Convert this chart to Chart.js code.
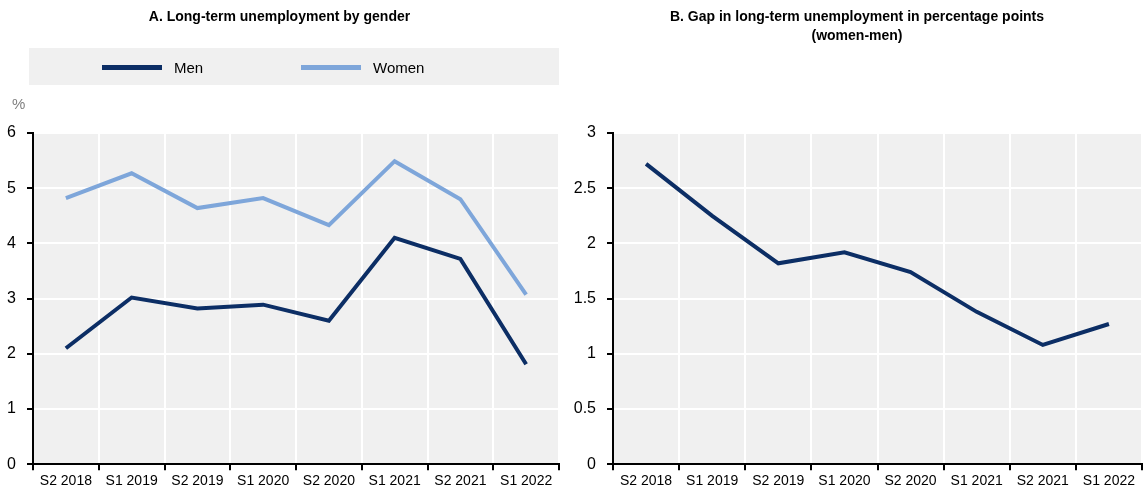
<!DOCTYPE html>
<html>
<head>
<meta charset="utf-8">
<script src="https://cdn.jsdelivr.net/npm/chart.js@4.4.1/dist/chart.umd.min.js"></script>
<style>
  html, body { margin: 0; padding: 0; background: #fff; }
  body { width: 1144px; height: 494px; position: relative; overflow: hidden;
         font-family: 'Liberation Sans Narrow', 'Arial Narrow', 'Liberation Sans', sans-serif; }
  .panel { position: absolute; top: 0; height: 494px; }
  #panelA { left: 0; width: 572px; }
  #panelB { left: 572px; width: 572px; }
  .legend { position: absolute; left: 29px; top: 48px; width: 530px; height: 37px;
            background: #f0f0f0; font-size: 15px; color: #000; }
  .legend .item { position: absolute; top: 0; height: 37px; line-height: 37px; }
  .legend .swatch { position: absolute; top: 17px; width: 60px; height: 5px; }
  .legend .label { position: absolute; white-space: nowrap; top: 1px; }
  .unit { position: absolute; left: 12px; top: 95px; font-size: 15px; color: #808080; }
</style>
</head>
<body>
<div class="panel" id="panelA">
  <canvas id="chartA" width="572" height="494"></canvas>
  <div class="legend" id="legendA"></div>
  <div class="unit">%</div>
</div>
<div class="panel" id="panelB">
  <canvas id="chartB" width="572" height="494"></canvas>
</div>
<script>
const periods = ["S2 2018", "S1 2019", "S2 2019", "S1 2020", "S2 2020", "S1 2021", "S2 2021", "S1 2022"];
const menValues = [2.10, 3.02, 2.82, 2.89, 2.60, 4.10, 3.72, 1.81];
const womenValues = [4.82, 5.27, 4.64, 4.82, 4.33, 5.49, 4.80, 3.07];
const gapValues = [2.72, 2.25, 1.82, 1.92, 1.74, 1.38, 1.08, 1.27];

const titleA = "A. Long-term unemployment by gender";
const titleB = ["B. Gap in long-term unemployment in percentage points", "(women-men)"];

const navy = '#0c2e65';
const lightBlue = '#7ea6da';
const fontFamily = "'Liberation Sans Narrow', 'Arial Narrow', 'Liberation Sans', sans-serif";

// grey plot background
const plotBackground = {
  id: 'plotBackground',
  beforeDraw(chart) {
    const a = chart.chartArea;
    const ctx = chart.ctx;
    ctx.save();
    ctx.fillStyle = '#f0f0f0';
    ctx.fillRect(a.left, a.top, a.right - a.left, a.bottom - a.top);
    ctx.restore();
  }
};

function makeOptions(titleText, titleBottom, yMax, yStep, axisWidth, rightPad) {
  return {
    responsive: false,
    animation: false,
    layout: { padding: { left: 0, right: rightPad, top: 0, bottom: 1 } },
    plugins: {
      legend: { display: false },
      tooltip: { enabled: false },
      title: {
        display: true,
        text: titleText,
        color: '#000',
        font: { family: fontFamily, size: 14, weight: 'bold', lineHeight: 1.35 },
        padding: { top: 8, bottom: titleBottom }
      }
    },
    scales: {
      x: {
        type: 'category',
        offset: true,
        grid: {
          offset: true,
          color: '#ffffff',
          lineWidth: 2,
          drawTicks: true,
          tickColor: '#000',
          tickLength: 6,
          tickWidth: 2
        },
        border: { display: true, color: '#000', width: 2 },
        ticks: { color: '#000', font: { family: fontFamily, size: 14 }, padding: 3, maxRotation: 0, autoSkip: false }
      },
      y: {
        min: 0,
        max: yMax,
        grid: {
          color: '#ffffff',
          lineWidth: 2,
          drawTicks: true,
          tickColor: '#000',
          tickLength: 6,
          tickWidth: 2
        },
        border: { display: true, color: '#000', width: 2 },
        ticks: {
          stepSize: yStep,
          color: '#000',
          font: { family: fontFamily, size: 16 },
          padding: 11,
          callback: value => String(value)
        },
        afterFit(scale) { scale.width = axisWidth; }
      }
    }
  };
}

const chartA = new Chart(document.getElementById('chartA'), {
  type: 'line',
  data: {
    labels: periods,
    datasets: [
      { label: 'Men', data: menValues, borderColor: navy, backgroundColor: navy, borderWidth: 4, pointRadius: 0, tension: 0 },
      { label: 'Women', data: womenValues, borderColor: lightBlue, backgroundColor: lightBlue, borderWidth: 4, pointRadius: 0, tension: 0 }
    ]
  },
  options: makeOptions(titleA, 133 - 8 - 14 * 1.35, 6, 1, 33, 13),
  plugins: [plotBackground]
});

new Chart(document.getElementById('chartB'), {
  type: 'line',
  data: {
    labels: periods,
    datasets: [
      { label: 'Gap', data: gapValues, borderColor: navy, backgroundColor: navy, borderWidth: 4, pointRadius: 0, tension: 0 }
    ]
  },
  options: makeOptions(titleB, 133 - 8 - 2 * 14 * 1.35, 3, 0.5, 41, 2),
  plugins: [plotBackground]
});

// HTML legend from the chart's datasets
const legendA = document.getElementById('legendA');
const legendX = [73, 272];
chartA.data.datasets.forEach((ds, i) => {
  const item = document.createElement('div');
  item.className = 'item';
  item.style.left = legendX[i] + 'px';
  const sw = document.createElement('div');
  sw.className = 'swatch';
  sw.style.left = '0px';
  sw.style.background = ds.borderColor;
  const lb = document.createElement('div');
  lb.className = 'label';
  lb.style.left = '72px';
  lb.textContent = ds.label;
  item.appendChild(sw);
  item.appendChild(lb);
  legendA.appendChild(item);
});
</script>
</body>
</html>
